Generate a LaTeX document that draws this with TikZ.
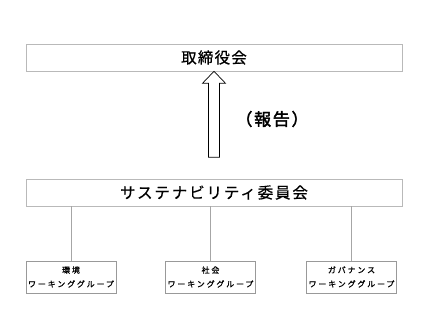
\documentclass[tikz,border=0pt]{standalone}
\usepackage{fontspec}
\setmainfont{Noto Sans CJK JP}[LetterSpace=8, FakeBold=0.6]
\newfontfamily\widefont{Noto Sans CJK JP}[LetterSpace=12, FakeBold=0.6]
\newfontfamily\wgfont{Noto Sans CJK JP}[LetterSpace=23, FakeBold=1.1]
\newfontfamily\reportfont{Noto Sans CJK JP}[LetterSpace=10, FakeBold=2.2]
\usetikzlibrary{positioning}

\begin{document}
\begin{tikzpicture}[
    x=1pt, y=-1pt,
    bigbox/.style={draw=gray!55, line width=0.6pt, minimum width=376pt, minimum height=27pt, inner sep=0pt, font=\fontsize{15.5}{17}\selectfont},
    wgbox/.style={draw=gray!80, line width=0.6pt, minimum width=90pt, minimum height=32pt, inner sep=0pt, align=center, font=\wgfont\fontsize{8}{14}\selectfont},
    link/.style={draw=gray!70, line width=0.6pt}
]
\useasboundingbox (0,0) rectangle (445,334);

\node[bigbox] (board) at (214,57.5) {取締役会};
\node[bigbox, font=\widefont\fontsize{15.5}{17}\selectfont] (committee) at (214,192.5) {サステナビリティ委員会};

\node[wgbox] (env) at (71,277) {環境\\ワーキンググループ};
\node[wgbox] (soc) at (210.5,277) {社会\\ワーキンググループ};
\node[wgbox] (gov) at (351.5,277) {ガバナンス\\ワーキンググループ};

% report arrow
\draw[line width=0.7pt] (board.south) -- ++(-11.5,12) -- ++(6,0) -- ++(0,74)
    -- ++(11,0) -- ++(0,-74) -- ++(6,0) -- cycle;
\node[font=\reportfont\fontsize{17}{19}\selectfont] (report) at (272,119) {（報告）};

\foreach \wg in {env,soc,gov}
    \path[link] (\wg.north) -- (\wg.north |- committee.south);
\end{tikzpicture}
\end{document}
